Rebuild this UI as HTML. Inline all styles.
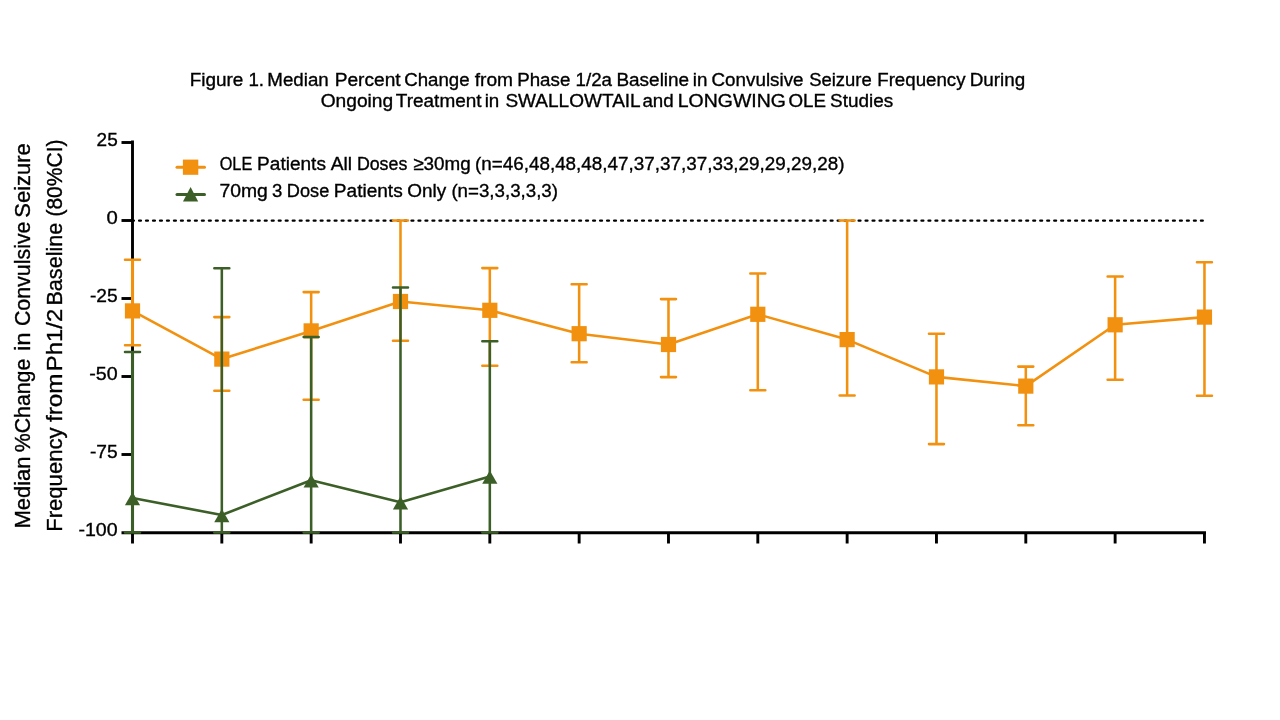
<!DOCTYPE html>
<html lang="en"><head><meta charset="utf-8"><title>Figure 1</title>
<style>html,body{margin:0;padding:0;background:#fff;}body{width:1280px;height:720px;overflow:hidden;}svg{display:block;}text{font-family:"Liberation Sans",sans-serif;fill:#000;stroke:#000;stroke-width:0.35px;}</style>
</head><body>
<svg width="1280" height="720" viewBox="0 0 1280 720">
<rect width="1280" height="720" fill="#fff"/>
<text y="85.5" font-size="18.9"><tspan x="189.70" textLength="53.64" lengthAdjust="spacingAndGlyphs">Figure</tspan> <tspan x="248.42" textLength="15.64" lengthAdjust="spacingAndGlyphs">1.</tspan> <tspan x="267.37" textLength="61.35" lengthAdjust="spacingAndGlyphs">Median</tspan> <tspan x="334.73" textLength="65.91" lengthAdjust="spacingAndGlyphs">Percent</tspan> <tspan x="404.25" textLength="65.33" lengthAdjust="spacingAndGlyphs">Change</tspan> <tspan x="474.73" textLength="38.33" lengthAdjust="spacingAndGlyphs">from</tspan> <tspan x="517.21" textLength="53.12" lengthAdjust="spacingAndGlyphs">Phase</tspan> <tspan x="575.56" textLength="36.49" lengthAdjust="spacingAndGlyphs">1/2a</tspan> <tspan x="616.45" textLength="72.70" lengthAdjust="spacingAndGlyphs">Baseline</tspan> <tspan x="692.78" textLength="14.59" lengthAdjust="spacingAndGlyphs">in</tspan> <tspan x="711.54" textLength="91.99" lengthAdjust="spacingAndGlyphs">Convulsive</tspan> <tspan x="809.16" textLength="62.56" lengthAdjust="spacingAndGlyphs">Seizure</tspan> <tspan x="877.22" textLength="88.32" lengthAdjust="spacingAndGlyphs">Frequency</tspan> <tspan x="969.70" textLength="55.51" lengthAdjust="spacingAndGlyphs">During</tspan></text>
<text y="107.2" font-size="18.9"><tspan x="320.69" textLength="72.44" lengthAdjust="spacingAndGlyphs">Ongoing</tspan> <tspan x="395.83" textLength="85.71" lengthAdjust="spacingAndGlyphs">Treatment</tspan> <tspan x="484.63" textLength="14.59" lengthAdjust="spacingAndGlyphs">in</tspan> <tspan x="505.40" textLength="134.61" lengthAdjust="spacingAndGlyphs">SWALLOWTAIL</tspan> <tspan x="642.39" textLength="31.28" lengthAdjust="spacingAndGlyphs">and</tspan> <tspan x="677.80" textLength="108.05" lengthAdjust="spacingAndGlyphs">LONGWING</tspan> <tspan x="788.47" textLength="37.52" lengthAdjust="spacingAndGlyphs">OLE</tspan> <tspan x="830.04" textLength="63.14" lengthAdjust="spacingAndGlyphs">Studies</tspan></text>
<text transform="translate(29.8,526.70) rotate(-90)" x="-1.80" y="0" font-size="22.4" textLength="71.92" lengthAdjust="spacingAndGlyphs">Median</text>
<text transform="translate(29.8,451.50) rotate(-90)" x="-0.76" y="0" font-size="22.4" textLength="93.50" lengthAdjust="spacingAndGlyphs">%Change</text>
<text transform="translate(29.8,349.44) rotate(-90)" x="-1.61" y="0" font-size="22.4" textLength="18.77" lengthAdjust="spacingAndGlyphs">in</text>
<text transform="translate(29.8,325.00) rotate(-90)" x="-1.09" y="0" font-size="22.4" textLength="104.53" lengthAdjust="spacingAndGlyphs">Convulsive</text>
<text transform="translate(29.8,216.70) rotate(-90)" x="-1.00" y="0" font-size="22.4" textLength="74.47" lengthAdjust="spacingAndGlyphs">Seizure</text>
<text transform="translate(61.6,530.00) rotate(-90)" x="-1.81" y="0" font-size="22.4" textLength="104.36" lengthAdjust="spacingAndGlyphs">Frequency</text>
<text transform="translate(61.6,421.70) rotate(-90)" x="-0.34" y="0" font-size="22.4" textLength="48.65" lengthAdjust="spacingAndGlyphs">from</text>
<text transform="translate(61.6,369.20) rotate(-90)" x="-1.96" y="0" font-size="22.4" textLength="62.36" lengthAdjust="spacingAndGlyphs">Ph1/2</text>
<text transform="translate(61.6,303.80) rotate(-90)" x="-1.77" y="0" font-size="22.4" textLength="82.83" lengthAdjust="spacingAndGlyphs">Baseline</text>
<text transform="translate(61.6,215.30) rotate(-90)" x="-1.30" y="0" font-size="22.4" textLength="77.11" lengthAdjust="spacingAndGlyphs">(80%CI)</text>
<g stroke="#000" stroke-width="2.9" fill="none" stroke-linecap="butt">
<line x1="132.5" y1="140.5" x2="132.5" y2="534"/>
<line x1="121.5" y1="532.7" x2="1206" y2="532.7"/>
<line x1="121.5" y1="142.50" x2="132.5" y2="142.50"/>
<line x1="121.5" y1="220.50" x2="132.5" y2="220.50"/>
<line x1="121.5" y1="298.50" x2="132.5" y2="298.50"/>
<line x1="121.5" y1="376.50" x2="132.5" y2="376.50"/>
<line x1="121.5" y1="454.50" x2="132.5" y2="454.50"/>
<line x1="132.50" y1="532.5" x2="132.50" y2="543.5"/>
<line x1="221.83" y1="532.5" x2="221.83" y2="543.5"/>
<line x1="311.16" y1="532.5" x2="311.16" y2="543.5"/>
<line x1="400.49" y1="532.5" x2="400.49" y2="543.5"/>
<line x1="489.82" y1="532.5" x2="489.82" y2="543.5"/>
<line x1="579.15" y1="532.5" x2="579.15" y2="543.5"/>
<line x1="668.48" y1="532.5" x2="668.48" y2="543.5"/>
<line x1="757.81" y1="532.5" x2="757.81" y2="543.5"/>
<line x1="847.14" y1="532.5" x2="847.14" y2="543.5"/>
<line x1="936.47" y1="532.5" x2="936.47" y2="543.5"/>
<line x1="1025.80" y1="532.5" x2="1025.80" y2="543.5"/>
<line x1="1115.13" y1="532.5" x2="1115.13" y2="543.5"/>
<line x1="1204.46" y1="532.5" x2="1204.46" y2="543.5"/>
</g>
<line x1="132.1" y1="220.6" x2="1203" y2="220.6" stroke="#000" stroke-width="2.4" stroke-linecap="round" stroke-dasharray="1.8 5.186"/>
<text y="146.00" font-size="19.2"><tspan x="96.57" textLength="21.13" lengthAdjust="spacingAndGlyphs">25</tspan></text>
<text y="224.00" font-size="19.2"><tspan x="106.41" textLength="11.28" lengthAdjust="spacingAndGlyphs">0</tspan></text>
<text y="302.00" font-size="19.2"><tspan x="89.97" textLength="27.73" lengthAdjust="spacingAndGlyphs">-25</tspan></text>
<text y="380.00" font-size="19.2"><tspan x="89.25" textLength="28.42" lengthAdjust="spacingAndGlyphs">-50</tspan></text>
<text y="458.00" font-size="19.2"><tspan x="89.97" textLength="27.73" lengthAdjust="spacingAndGlyphs">-75</tspan></text>
<text y="536.00" font-size="19.2"><tspan x="78.45" textLength="39.21" lengthAdjust="spacingAndGlyphs">-100</tspan></text>
<g stroke="#F1910F" stroke-width="2.55" fill="none">
<path d="M132.50 259.8 V345.3" stroke-width="3.1"/>
<path d="M132.50 259.8 V345.3 M125.00 259.8 H140.00 M125.00 345.3 H140.00" stroke-linecap="round"/>
<path d="M221.83 317.1 V390.8 M214.33 317.1 H229.33 M214.33 390.8 H229.33" stroke-linecap="round"/>
<path d="M311.16 292.1 V399.8 M303.66 292.1 H318.66 M303.66 399.8 H318.66" stroke-linecap="round"/>
<path d="M400.49 220.5 V340.8 M392.99 220.5 H407.99 M392.99 340.8 H407.99" stroke-linecap="round"/>
<path d="M489.82 268.1 V365.8 M482.32 268.1 H497.32 M482.32 365.8 H497.32" stroke-linecap="round"/>
<path d="M579.15 284.3 V362.3 M571.65 284.3 H586.65 M571.65 362.3 H586.65" stroke-linecap="round"/>
<path d="M668.48 299.1 V377.1 M660.98 299.1 H675.98 M660.98 377.1 H675.98" stroke-linecap="round"/>
<path d="M757.81 273.5 V390.3 M750.31 273.5 H765.31 M750.31 390.3 H765.31" stroke-linecap="round"/>
<path d="M847.14 220.5 V395.5 M839.64 220.5 H854.64 M839.64 395.5 H854.64" stroke-linecap="round"/>
<path d="M936.47 333.8 V444.1 M928.97 333.8 H943.97 M928.97 444.1 H943.97" stroke-linecap="round"/>
<path d="M1025.80 366.6 V425.2 M1018.30 366.6 H1033.30 M1018.30 425.2 H1033.30" stroke-linecap="round"/>
<path d="M1115.13 276.5 V379.7 M1107.63 276.5 H1122.63 M1107.63 379.7 H1122.63" stroke-linecap="round"/>
<path d="M1204.46 262.3 V395.8 M1196.96 262.3 H1211.96 M1196.96 395.8 H1211.96" stroke-linecap="round"/>
<path d="M132.50 310.90000000000003 L221.83 359.1 L311.16 330.90000000000003 L400.49 301.5 L489.82 310.3 L579.15 333.7 L668.48 344.5 L757.81 314.3 L847.14 339.6 L936.47 376.90000000000003 L1025.80 386.1 L1115.13 324.8 L1204.46 317.1" stroke-width="2.6" stroke-linejoin="round"/>
</g>
<g fill="#F1910F">
<rect x="124.90" y="303.30" width="15.2" height="15.2"/>
<rect x="214.23" y="351.50" width="15.2" height="15.2"/>
<rect x="303.56" y="323.30" width="15.2" height="15.2"/>
<rect x="392.89" y="293.90" width="15.2" height="15.2"/>
<rect x="482.22" y="302.70" width="15.2" height="15.2"/>
<rect x="571.55" y="326.10" width="15.2" height="15.2"/>
<rect x="660.88" y="336.90" width="15.2" height="15.2"/>
<rect x="750.21" y="306.70" width="15.2" height="15.2"/>
<rect x="839.54" y="332.00" width="15.2" height="15.2"/>
<rect x="928.87" y="369.30" width="15.2" height="15.2"/>
<rect x="1018.20" y="378.50" width="15.2" height="15.2"/>
<rect x="1107.53" y="317.20" width="15.2" height="15.2"/>
<rect x="1196.86" y="309.50" width="15.2" height="15.2"/>
</g>
<g stroke="#3C5F28" stroke-width="2.55" fill="none">
<path d="M132.50 351.9 V532.5" stroke-width="3.1"/>
<path d="M132.50 351.9 V532.5 M125.00 351.9 H140.00 M125.00 532.5 H140.00" stroke-linecap="round"/>
<path d="M221.83 268.2 V532.5 M214.33 268.2 H229.33 M214.33 532.5 H229.33" stroke-linecap="round"/>
<path d="M311.16 337.0 V532.5 M303.66 337.0 H318.66 M303.66 532.5 H318.66" stroke-linecap="round"/>
<path d="M400.49 287.5 V532.5 M392.99 287.5 H407.99 M392.99 532.5 H407.99" stroke-linecap="round"/>
<path d="M489.82 341.2 V532.5 M482.32 341.2 H497.32 M482.32 532.5 H497.32" stroke-linecap="round"/>
<path d="M132.50 498.0 L221.83 515.0 L311.16 480.2 L400.49 502.3 L489.82 476.6" stroke-width="2.6" stroke-linejoin="round"/>
</g>
<g fill="#3C5F28">
<path d="M132.50 492.00 L140.10 505.20 H124.90 Z"/>
<path d="M221.83 509.00 L229.43 522.20 H214.23 Z"/>
<path d="M311.16 474.20 L318.76 487.40 H303.56 Z"/>
<path d="M400.49 496.30 L408.09 509.50 H392.89 Z"/>
<path d="M489.82 470.60 L497.42 483.80 H482.22 Z"/>
</g>
<line x1="177" y1="167.2" x2="204.5" y2="167.2" stroke="#F1910F" stroke-width="3" stroke-linecap="round"/>
<rect x="182.9" y="159.6" width="15.4" height="15.2" fill="#F1910F"/>
<line x1="177" y1="194.4" x2="204.5" y2="194.4" stroke="#3C5F28" stroke-width="3" stroke-linecap="round"/>
<path d="M190.6 187.1 L198.2 201.6 H183 Z" fill="#3C5F28"/>
<text y="170" font-size="18.8"><tspan x="219.73" textLength="32.54" lengthAdjust="spacingAndGlyphs">OLE</tspan> <tspan x="257.07" textLength="68.89" lengthAdjust="spacingAndGlyphs">Patients</tspan> <tspan x="330.72" textLength="21.33" lengthAdjust="spacingAndGlyphs">All</tspan> <tspan x="356.91" textLength="50.37" lengthAdjust="spacingAndGlyphs">Doses</tspan> <tspan x="413.28" textLength="57.47" lengthAdjust="spacingAndGlyphs">≥30mg</tspan> <tspan x="474.95" textLength="369.57" lengthAdjust="spacingAndGlyphs">(n=46,48,48,48,47,37,37,37,33,29,29,29,28)</tspan></text>
<text y="197" font-size="18.8"><tspan x="219.51" textLength="48.37" lengthAdjust="spacingAndGlyphs">70mg</tspan> <tspan x="271.96" textLength="10.31" lengthAdjust="spacingAndGlyphs">3</tspan> <tspan x="286.86" textLength="42.38" lengthAdjust="spacingAndGlyphs">Dose</tspan> <tspan x="333.82" textLength="68.89" lengthAdjust="spacingAndGlyphs">Patients</tspan> <tspan x="407.26" textLength="38.95" lengthAdjust="spacingAndGlyphs">Only</tspan> <tspan x="451.38" textLength="106.65" lengthAdjust="spacingAndGlyphs">(n=3,3,3,3,3)</tspan></text>
</svg></body></html>
